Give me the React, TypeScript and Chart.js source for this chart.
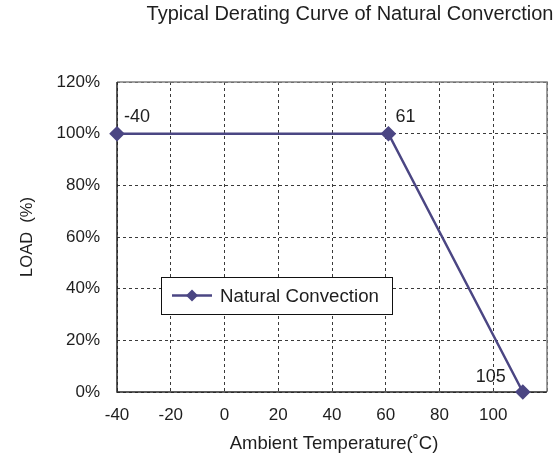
import React, { useEffect, useRef } from "react";
import { Chart, registerables } from "chart.js";

Chart.register(...registerables);

// ---- data ----
const CHART_TITLE = "Typical Derating Curve of Natural Converction";
const SERIES_NAME = "Natural Convection";
const X_TITLE = "Ambient Temperature(˚C)";
const Y_TITLE = "LOAD  (%)";
const TEMPERATURES = [-40, 61, 111];
const LOADS = [100, 100, 0];
const POINT_LABELS = ["-40", "61", "105"];
const X_MIN = -40;
const X_MAX = 120;
const X_STEP = 20;
const Y_MIN = 0;
const Y_MAX = 120;
const Y_STEP = 20;
const HIDDEN_X_TICKS = [120];

const FONT = "'Liberation Sans', Arial, Helvetica, sans-serif";
const TEXT_COLOR = "#1e1e1e";
const SERIES_COLOR = "#4B4683";
const GRID_COLOR = "#3a3a3a";

export default function App() {
  const ref = useRef<HTMLCanvasElement | null>(null);

  useEffect(() => {
    document.body.style.margin = "0";
    const canvas = ref.current;
    if (!canvas) return;

    const decor = {
      id: "decor",
      beforeDatasetsDraw(chart: any) {
        const { ctx, chartArea: a } = chart;
        ctx.save();
        ctx.setLineDash([]);
        ctx.lineWidth = 1.5;
        ctx.strokeStyle = "#808080";
        ctx.beginPath();
        ctx.moveTo(a.left, a.top);
        ctx.lineTo(a.right, a.top);
        ctx.lineTo(a.right, a.bottom);
        ctx.stroke();
        ctx.strokeStyle = "#262626";
        ctx.beginPath();
        ctx.moveTo(a.left, a.top);
        ctx.lineTo(a.left, a.bottom);
        ctx.lineTo(a.right, a.bottom);
        ctx.stroke();
        ctx.restore();
      },
      afterDatasetsDraw(chart: any) {
        const { ctx, chartArea: a } = chart;
        const meta = chart.getDatasetMeta(0);
        ctx.save();
        ctx.fillStyle = TEXT_COLOR;
        ctx.font = `18px ${FONT}`;
        ctx.textBaseline = "middle";
        meta.data.forEach((pt: any, i: number) => {
          const last = i === meta.data.length - 1;
          if (last) {
            ctx.textAlign = "right";
            ctx.fillText(POINT_LABELS[i], pt.x - 17, pt.y - 15);
          } else {
            ctx.textAlign = "left";
            ctx.fillText(POINT_LABELS[i], pt.x + 7, pt.y - 17);
          }
        });

        // legend box inside plot
        const lx = a.left + 44;
        const ly = a.top + 195;
        const lw = 231;
        const lh = 37;
        ctx.fillStyle = "#ffffff";
        ctx.fillRect(lx, ly, lw, lh);
        ctx.strokeStyle = "#111";
        ctx.lineWidth = 1;
        ctx.setLineDash([]);
        ctx.strokeRect(lx + 0.5, ly + 0.5, lw, lh);
        const cy = ly + lh / 2;
        ctx.strokeStyle = SERIES_COLOR;
        ctx.lineWidth = 2.5;
        ctx.beginPath();
        ctx.moveTo(lx + 11, cy);
        ctx.lineTo(lx + 51, cy);
        ctx.stroke();
        ctx.fillStyle = SERIES_COLOR;
        ctx.beginPath();
        const r = 6;
        const mx = lx + 31;
        ctx.moveTo(mx, cy - r);
        ctx.lineTo(mx + r, cy);
        ctx.lineTo(mx, cy + r);
        ctx.lineTo(mx - r, cy);
        ctx.closePath();
        ctx.fill();
        ctx.fillStyle = TEXT_COLOR;
        ctx.textAlign = "left";
        ctx.textBaseline = "middle";
        ctx.font = `18.7px ${FONT}`;
        ctx.fillText(chart.data.datasets[0].label, lx + 59, cy + 1);
        ctx.restore();
      },
      afterDraw(chart: any) {
        const { ctx, chartArea: a } = chart;
        ctx.save();
        ctx.fillStyle = TEXT_COLOR;
        ctx.textAlign = "center";
        ctx.textBaseline = "middle";
        ctx.font = `20px ${FONT}`;
        ctx.fillText(CHART_TITLE, 350, 14);
        ctx.font = `18.5px ${FONT}`;
        ctx.fillText(X_TITLE, (a.left + a.right) / 2 + 2, a.bottom + 52);
        ctx.font = `16.5px ${FONT}`;
        ctx.translate(27, (a.top + a.bottom) / 2);
        ctx.rotate(-Math.PI / 2);
        ctx.fillText(Y_TITLE, 0, 0);
        ctx.restore();
      },
    };

    const chart = new Chart(canvas, {
      type: "scatter",
      data: {
        datasets: [
          {
            label: SERIES_NAME,
            data: TEMPERATURES.map((t, i) => ({ x: t, y: LOADS[i] })),
            showLine: true,
            borderColor: SERIES_COLOR,
            backgroundColor: SERIES_COLOR,
            borderWidth: 2.5,
            pointStyle: "rectRot",
            pointRadius: 6,
            pointHoverRadius: 6,
            clip: false,
          } as any,
        ],
      },
      options: {
        responsive: false,
        animation: false,
        events: [],
        layout: { padding: { left: 0, right: 11, top: 82, bottom: 0 } },
        plugins: {
          legend: { display: false },
          title: { display: false },
          tooltip: { enabled: false },
        },
        scales: {
          x: {
            type: "linear",
            min: X_MIN,
            max: X_MAX,
            ticks: {
              stepSize: X_STEP,
              padding: 13,
              color: TEXT_COLOR,
              font: { family: FONT, size: 17 },
              maxRotation: 0,
              callback: (v: any) => (HIDDEN_X_TICKS.includes(Number(v)) ? "" : String(v)),
            },
            grid: { color: GRID_COLOR, lineWidth: 1, drawTicks: false },
            border: { display: false, dash: [3, 3] },
            afterFit: (s: any) => {
              s.height = 68;
            },
          },
          y: {
            type: "linear",
            min: Y_MIN,
            max: Y_MAX,
            ticks: {
              stepSize: Y_STEP,
              padding: 17,
              color: TEXT_COLOR,
              font: { family: FONT, size: 17 },
              callback: (v: any) => `${v}%`,
            },
            grid: { color: GRID_COLOR, lineWidth: 1, drawTicks: false },
            border: { display: false, dash: [3, 3] },
            afterFit: (s: any) => {
              s.width = 117;
            },
          },
        },
      },
      plugins: [decor],
    });

    return () => chart.destroy();
  }, []);

  return <canvas ref={ref} width={560} height={460} style={{ display: "block" }} />;
}
